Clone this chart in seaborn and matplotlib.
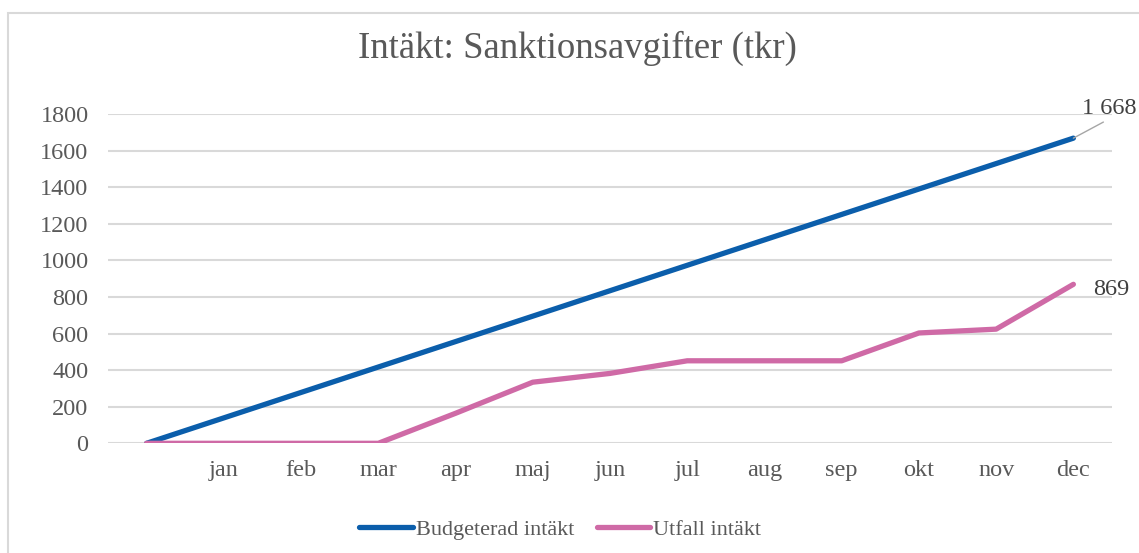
# Intäkt: Sanktionsavgifter (tkr) - budget vs utfall per månad
import pandas as pd
import matplotlib.pyplot as plt
import seaborn as sns
from matplotlib.patches import Rectangle

months = ["", "jan", "feb", "mar", "apr", "maj", "jun", "jul", "aug", "sep", "okt", "nov", "dec"]
budget = [0, 139, 278, 417, 556, 695, 834, 973, 1112, 1251, 1390, 1529, 1668]
utfall = [0, 0, 0, 0, 164, 334, 382, 451, 451, 451, 603, 624, 869]

df = pd.DataFrame({
    "pos": list(range(len(months))) * 2,
    "value": budget + utfall,
    "serie": ["Budgeterad intäkt"] * len(months) + ["Utfall intäkt"] * len(months),
})

sns.set_style("white")
plt.rcParams['font.family'] = ['Liberation Serif', 'DejaVu Serif']
text_color = '#595959'
grid_color = '#D9D9D9'
palette = {"Budgeterad intäkt": '#0B5EAB', "Utfall intäkt": '#CF6AA6'}

fig = plt.figure(figsize=(11.39, 5.53), dpi=100)
ax = fig.add_axes([108 / 1139, 109.7 / 553, 1004 / 1139, 329.3 / 553])

sns.lineplot(data=df, x="pos", y="value", hue="serie", palette=palette,
             linewidth=3.8, ax=ax, legend=False, solid_capstyle='round')

ax.set_xlim(-0.5, len(months) - 0.5)
ax.set_ylim(0, 1800)
ax.set_xticks(range(len(months)))
ax.set_xticklabels(months)
ax.set_yticks(range(0, 1801, 200))
ax.tick_params(axis='both', length=0, labelsize=17.5, labelcolor=text_color)
ax.tick_params(axis='y', pad=14)
ax.tick_params(axis='x', pad=12)
ax.set_xlabel("")
ax.set_ylabel("")
ax.grid(axis='y', color=grid_color, linewidth=1.5)
ax.set_axisbelow(True)
for s in ax.spines.values():
    s.set_visible(False)

# data labels at the last month
ax.annotate(f"{budget[-1]:,}".replace(",", " "), xy=(len(months) - 1, budget[-1]),
            xytext=(26, 21.5), textcoords='offset points', ha='center', va='center',
            fontsize=17.5, color='#404040', annotation_clip=False,
            arrowprops=dict(arrowstyle='-', color='#A6A6A6', lw=1, relpos=(0.5, 0.0),
                            shrinkA=0, shrinkB=0))
ax.annotate(f"{utfall[-1]}", xy=(len(months) - 1, utfall[-1]),
            xytext=(27, -4), textcoords='offset points', ha='center', va='center',
            fontsize=17.5, color='#404040', annotation_clip=False)

fig.suptitle("Intäkt: Sanktionsavgifter (tkr)", x=0.507, y=0.945, fontsize=26.5,
             color=text_color)

handles = [plt.Line2D([], [], color=palette[k], linewidth=3.8, solid_capstyle='round')
           for k in palette]
leg = fig.legend(handles, list(palette.keys()), loc='center', bbox_to_anchor=(0.492, 0.042),
                 ncol=2, frameon=False, fontsize=16, handlelength=2.4, handletextpad=0.15,
                 columnspacing=1.0)
for t in leg.get_texts():
    t.set_color(text_color)

# outer chart border
fig.patches.append(Rectangle((8 / 1139, -0.02), 1.1, 1.02 - 13 / 553, transform=fig.transFigure,
                             fill=False, edgecolor=grid_color, linewidth=1.5))

fig.savefig("out.png", dpi=100)
